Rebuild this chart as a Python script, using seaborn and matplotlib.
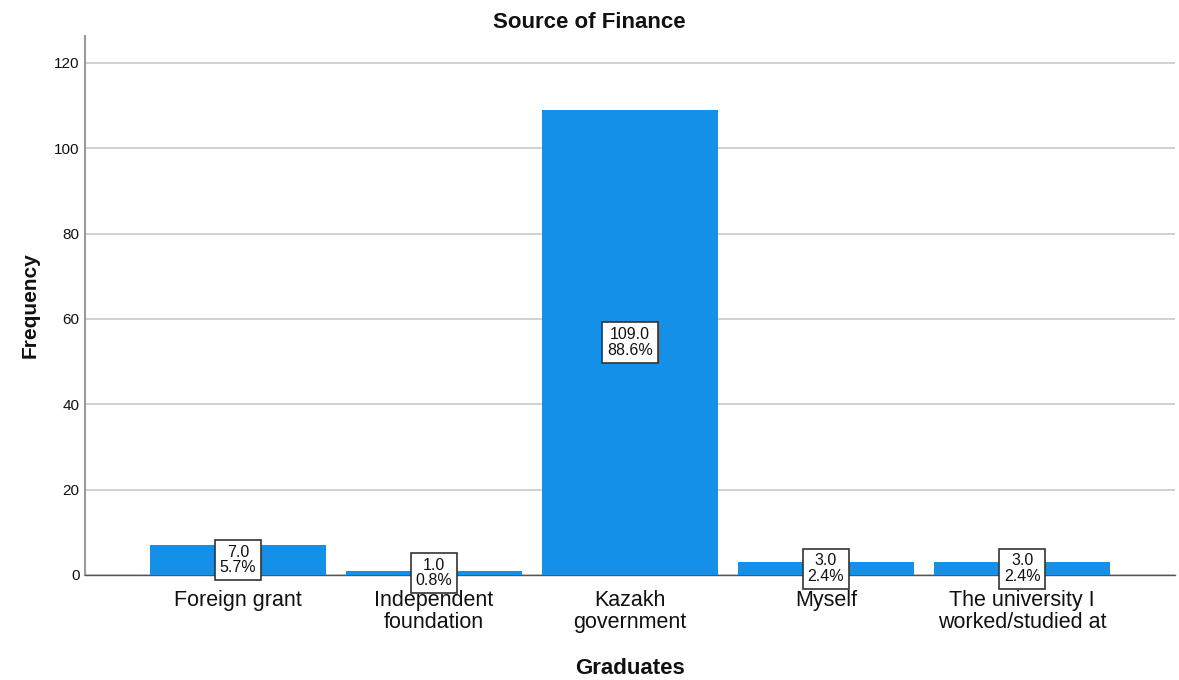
import matplotlib
matplotlib.use("Agg")
import matplotlib.pyplot as plt
import seaborn as sns
import pandas as pd

categories = ["Foreign grant", "Independent\nfoundation", "Kazakh\ngovernment",
              "Myself", "The university I\nworked/studied at"]
counts = [7, 1, 109, 3, 3]
y_ticks = [0, 20, 40, 60, 80, 100, 120]

total = sum(counts)
percents = [100.0 * c / total for c in counts]

df = pd.DataFrame({"Graduates": categories, "Frequency": counts})

sns.set_style("white")
plt.rcParams["font.family"] = ["Liberation Sans", "DejaVu Sans"]

fig = plt.figure(figsize=(11.79, 6.8), dpi=100)
ax = fig.add_axes([85 / 1179, 1 - 575 / 680, 1090 / 1179, 539 / 680])

sns.barplot(data=df, x="Graduates", y="Frequency", color="#1490E8",
            saturation=1, width=0.898, linewidth=0, ax=ax, zorder=3)

ax.set_xlim(-0.78, 4.78)
ax.set_ylim(0, 126.3)
ax.set_yticks(y_ticks)
ax.yaxis.grid(True, color="#c8c8c8", linewidth=1.2, zorder=0)
ax.xaxis.grid(False)
ax.set_axisbelow(True)

for side in ["top", "right"]:
    ax.spines[side].set_visible(False)
ax.spines["left"].set_color("#9a9a9a")
ax.spines["left"].set_linewidth(1.5)
ax.spines["bottom"].set_color("#555555")
ax.spines["bottom"].set_linewidth(1.0)

ax.tick_params(axis="y", labelsize=11, length=0, pad=4, labelcolor="#111111")
ax.tick_params(axis="x", labelsize=15.5, length=0, pad=11, labelcolor="#111111")
for lbl in ax.get_xticklabels():
    lbl.set_linespacing(1.03)

ax.set_xlabel("Graduates", fontsize=16, fontweight="bold", labelpad=18,
              color="#111111")
ax.set_ylabel("Frequency", fontsize=15, fontweight="bold", labelpad=10,
              color="#111111")
fig.suptitle("Source of Finance", fontsize=16, fontweight="bold",
             x=0.5, y=1 - 22 / 680, va="center", color="#111111")

for i, (c, p) in enumerate(zip(counts, percents)):
    ax.text(i, c / 2, f"{c:.1f}\n{p:.1f}%", ha="center", va="center",
            fontsize=11.5, linespacing=1.05, zorder=5, color="#111111",
            bbox=dict(boxstyle="square,pad=0.3", facecolor="white",
                      edgecolor="#333333", linewidth=1.2))

fig.savefig("out.png", dpi=100, facecolor="white")
